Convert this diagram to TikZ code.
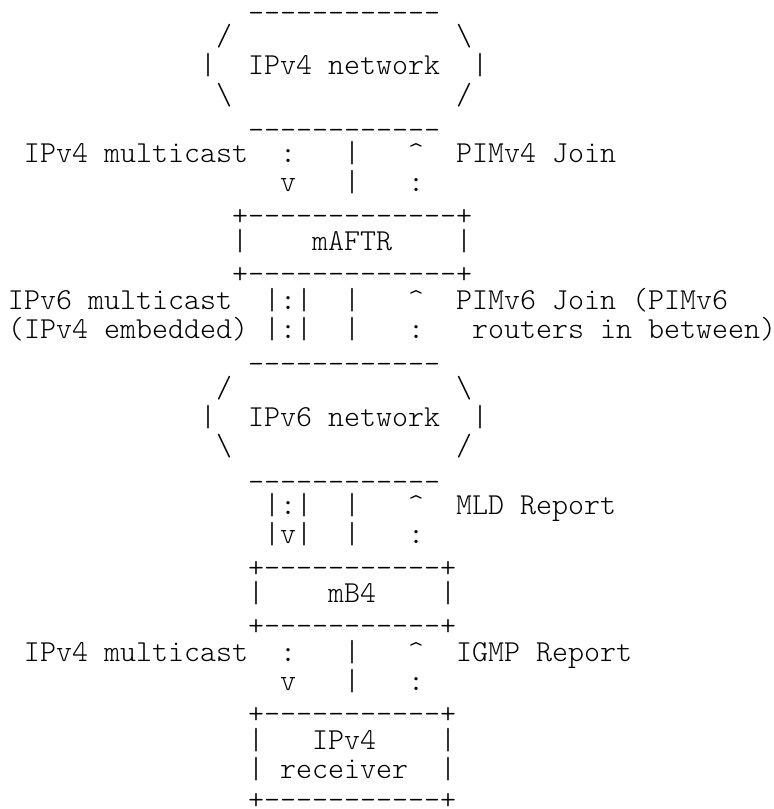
\documentclass[tikz,border=0pt]{standalone}
\usepackage{fontspec}
\tikzset{ascii/.style={anchor=base west, inner sep=0pt, outer sep=0pt, font=\fontsize{15.24pt}{16pt}\ttfamily\fontseries{l}\selectfont, text=black}}
\newcommand{\asciibs}{\textbackslash}
\newcommand{\asciicaret}{\textasciicircum}
\newcommand{\dd}{-\kern0pt}
\newcommand{\dtwelve}{\dd\dd\dd\dd\dd\dd\dd\dd\dd\dd\dd\dd}
\newcommand{\delev}{\dd\dd\dd\dd\dd\dd\dd\dd\dd\dd\dd}
\begin{document}
\begin{tikzpicture}[x=0.5pt,y=-0.5pt]
\useasboundingbox (0,0) rectangle (774,809);
\node[ascii] (l1) at (248,22) {\dtwelve};
\node[ascii] (l2) at (216,45.3) {/~~~~~~~~~~~~~~\asciibs};
\node[ascii] (l3) at (200,74.6) {|~~IPv4~network~~|};
\node[ascii] (l4) at (216,104) {\asciibs~~~~~~~~~~~~~~/};
\node[ascii] (l5) at (248,139.3) {\dtwelve};
\node[ascii] (l6) at (24,162.6) {IPv4~multicast~~:~~~|~~~\asciicaret~~PIMv4~Join};
\node[ascii] (l7) at (280,191.9) {v~~~|~~~:};
\node[ascii] (l8) at (232,225.2) {+\dtwelve\dd+};
\node[ascii] (l9) at (232,250.6) {|~~~~mAFTR~~~~|};
\node[ascii] (l10) at (232,283.9) {+\dtwelve\dd+};
\node[ascii] (l11) at (8,309.2) {IPv6~multicast~~|:|~~|~~~\asciicaret~~PIMv6~Join~(PIMv6};
\node[ascii] (l12) at (8,338.5) {(IPv4~embedded)~|:|~~|~~~:~~~routers~in~between)};
\node[ascii] (l13) at (248,373.8) {\dtwelve};
\node[ascii] (l14) at (216,397.2) {/~~~~~~~~~~~~~~\asciibs};
\node[ascii] (l15) at (200,426.5) {|~~IPv6~network~~|};
\node[ascii] (l16) at (216,455.8) {\asciibs~~~~~~~~~~~~~~/};
\node[ascii] (l17) at (248,491.1) {\dtwelve};
\node[ascii] (l18) at (264,514.4) {|:|~~|~~~\asciicaret~~MLD~Report};
\node[ascii] (l19) at (264,543.8) {|v|~~|~~~:};
\node[ascii] (l20) at (248,577.1) {+\delev+};
\node[ascii] (l21) at (248,602.4) {|~~~~mB4~~~~|};
\node[ascii] (l22) at (248,635.7) {+\delev+};
\node[ascii] (l23) at (24,661) {IPv4~multicast~~:~~~|~~~\asciicaret~~IGMP~Report};
\node[ascii] (l24) at (280,690.4) {v~~~|~~~:};
\node[ascii] (l25) at (248,723.7) {+\delev+};
\node[ascii] (l26) at (248,749) {|~~~IPv4~~~~|};
\node[ascii] (l27) at (248,778.3) {|~receiver~~|};
\node[ascii] (l28) at (248,809.6) {+\delev+};
\end{tikzpicture}
\end{document}
